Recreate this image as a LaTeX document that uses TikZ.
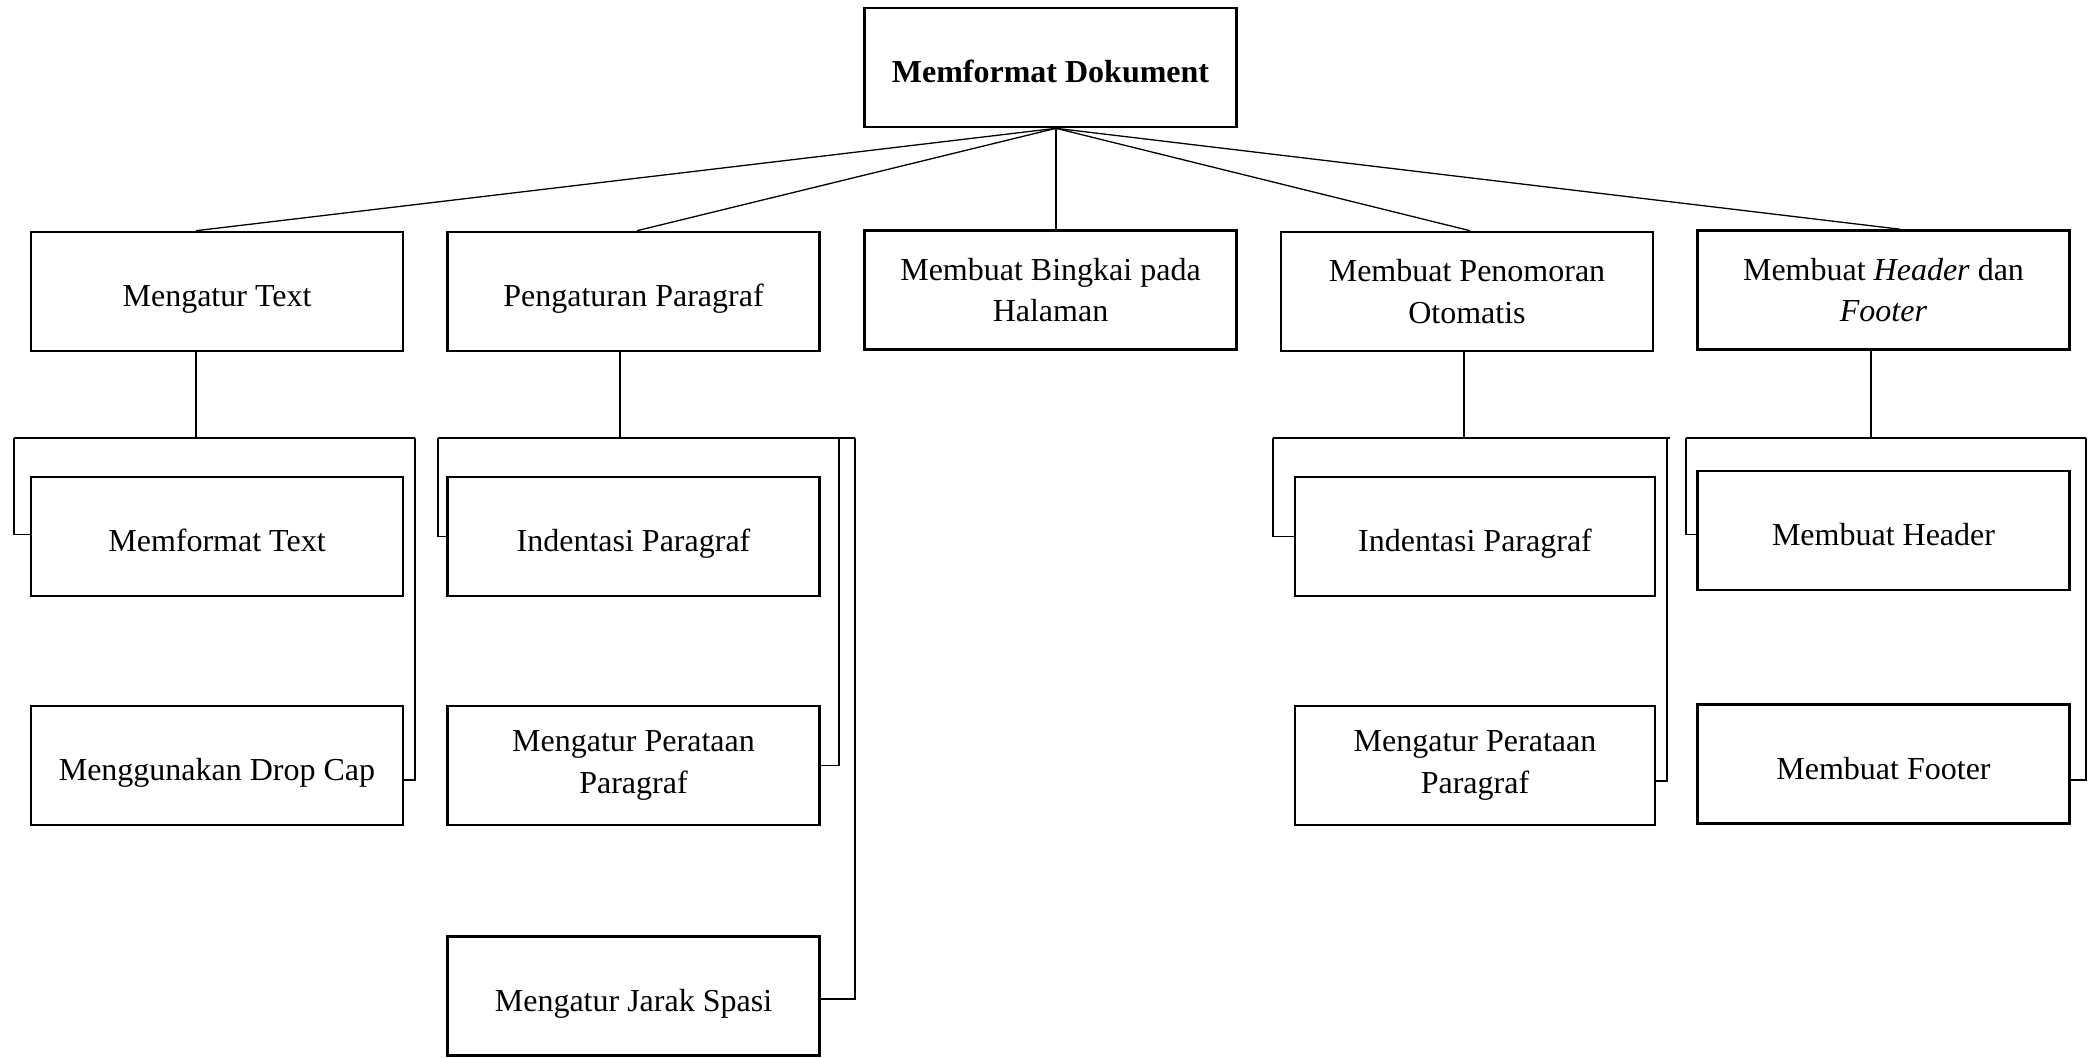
\documentclass[tikz,border=0pt]{standalone}
\usepackage{fontspec}
\setmainfont{Liberation Serif}
\begin{document}
\begin{tikzpicture}[x=0.5pt,y=-0.5pt,
  box/.style={draw, line width=1.3pt, minimum width=186pt, minimum height=59.5pt,
    inner sep=2pt, align=center, font=\fontsize{16pt}{20.7pt}\selectfont},
  oneline/.style={text depth=0pt, text height=15pt},
  conn/.style={line width=0.65pt}]
\useasboundingbox (0,0) rectangle (2094,1057);
% root
\node[box,oneline] (root) at (1050.5,67.5) {\textbf{Memformat Dokument}};
% level 1
\node[box,oneline] (a) at (217,291.5) {Mengatur Text};
\node[box,oneline] (b) at (633.5,291.5) {Pengaturan Paragraf};
\node[box] (c) at (1050.5,290) {Membuat Bingkai pada\\Halaman};
\node[box] (d) at (1467,291.5) {Membuat Penomoran\\Otomatis};
\node[box] (e) at (1883.5,290) {Membuat \textit{Header} dan\\\textit{Footer}};
% level 2
\node[box,oneline] (a1) at (217,536.5) {Memformat Text};
\node[box,oneline] (a2) at (217,765.5) {Menggunakan Drop Cap};
\node[box,oneline] (b1) at (633.5,536.5) {Indentasi Paragraf};
\node[box] (b2) at (633.5,765.5) {Mengatur Perataan\\Paragraf};
\node[box,oneline] (b3) at (633.5,996) {Mengatur Jarak Spasi};
\node[box,oneline, minimum width=180pt] (d1) at (1475,536.5) {Indentasi Paragraf};
\node[box, minimum width=180pt] (d2) at (1475,765.5) {Mengatur Perataan\\Paragraf};
\node[box,oneline] (e1) at (1883.5,530.5) {Membuat Header};
\node[box,oneline] (e2) at (1883.5,764) {Membuat Footer};
% root connectors
\draw[conn] ([xshift=2.75pt]root.south) -- ([xshift=-10.5pt]a.north);
\draw[conn] ([xshift=2.75pt]root.south) -- ([xshift=1.75pt]b.north);
\draw[conn] ([xshift=2.75pt]root.south) -- ([xshift=2.75pt]c.north);
\draw[conn] ([xshift=2.75pt]root.south) -- ([xshift=1.5pt]d.north);
\draw[conn] ([xshift=2.75pt]root.south) -- ([xshift=8.25pt]e.north);
% column 1
\coordinate (a-bus) at (196,438);
\coordinate (a-L) at (14,438);
\coordinate (a-R) at (415,438);
\draw[conn] (a.south -| a-bus) -- (a-bus);
\draw[conn] (a-L) -- (a-R);
\draw[conn] (a-L) |- ([yshift=1pt]a1.west);
\draw[conn] (a-R) |- ([yshift=-7.25pt]a2.east);
% column 2
\coordinate (b-bus) at (620,438);
\coordinate (b-L) at (438,438);
\coordinate (b-R1) at (839,438);
\coordinate (b-R2) at (855,438);
\draw[conn] (b.south -| b-bus) -- (b-bus);
\draw[conn] (b-L) -- (b-R2);
\draw[conn] (b-L) |- (b1.west);
\draw[conn] (b-R1) |- (b2.east);
\draw[conn] (b-R2) |- ([yshift=-1.5pt]b3.east);
% column 4
\coordinate (d-bus) at (1464,438);
\coordinate (d-L) at (1273,438);
\coordinate (d-R) at (1667,438);
\coordinate (d-Rx) at (1670,438);
\draw[conn] (d.south -| d-bus) -- (d-bus);
\draw[conn] (d-L) -- (d-Rx);
\draw[conn] (d-L) |- (d1.west);
\draw[conn] (d-R) |- ([yshift=-7.75pt]d2.east);
% column 5
\coordinate (e-bus) at (1871,438);
\coordinate (e-L) at (1686,438);
\coordinate (e-R) at (2086,438);
\draw[conn] (e.south -| e-bus) -- (e-bus);
\draw[conn] (e-L) -- (e-R);
\draw[conn] (e-L) |- ([yshift=-2pt]e1.west);
\draw[conn] (e-R) |- ([yshift=-8pt]e2.east);
\end{tikzpicture}
\end{document}
